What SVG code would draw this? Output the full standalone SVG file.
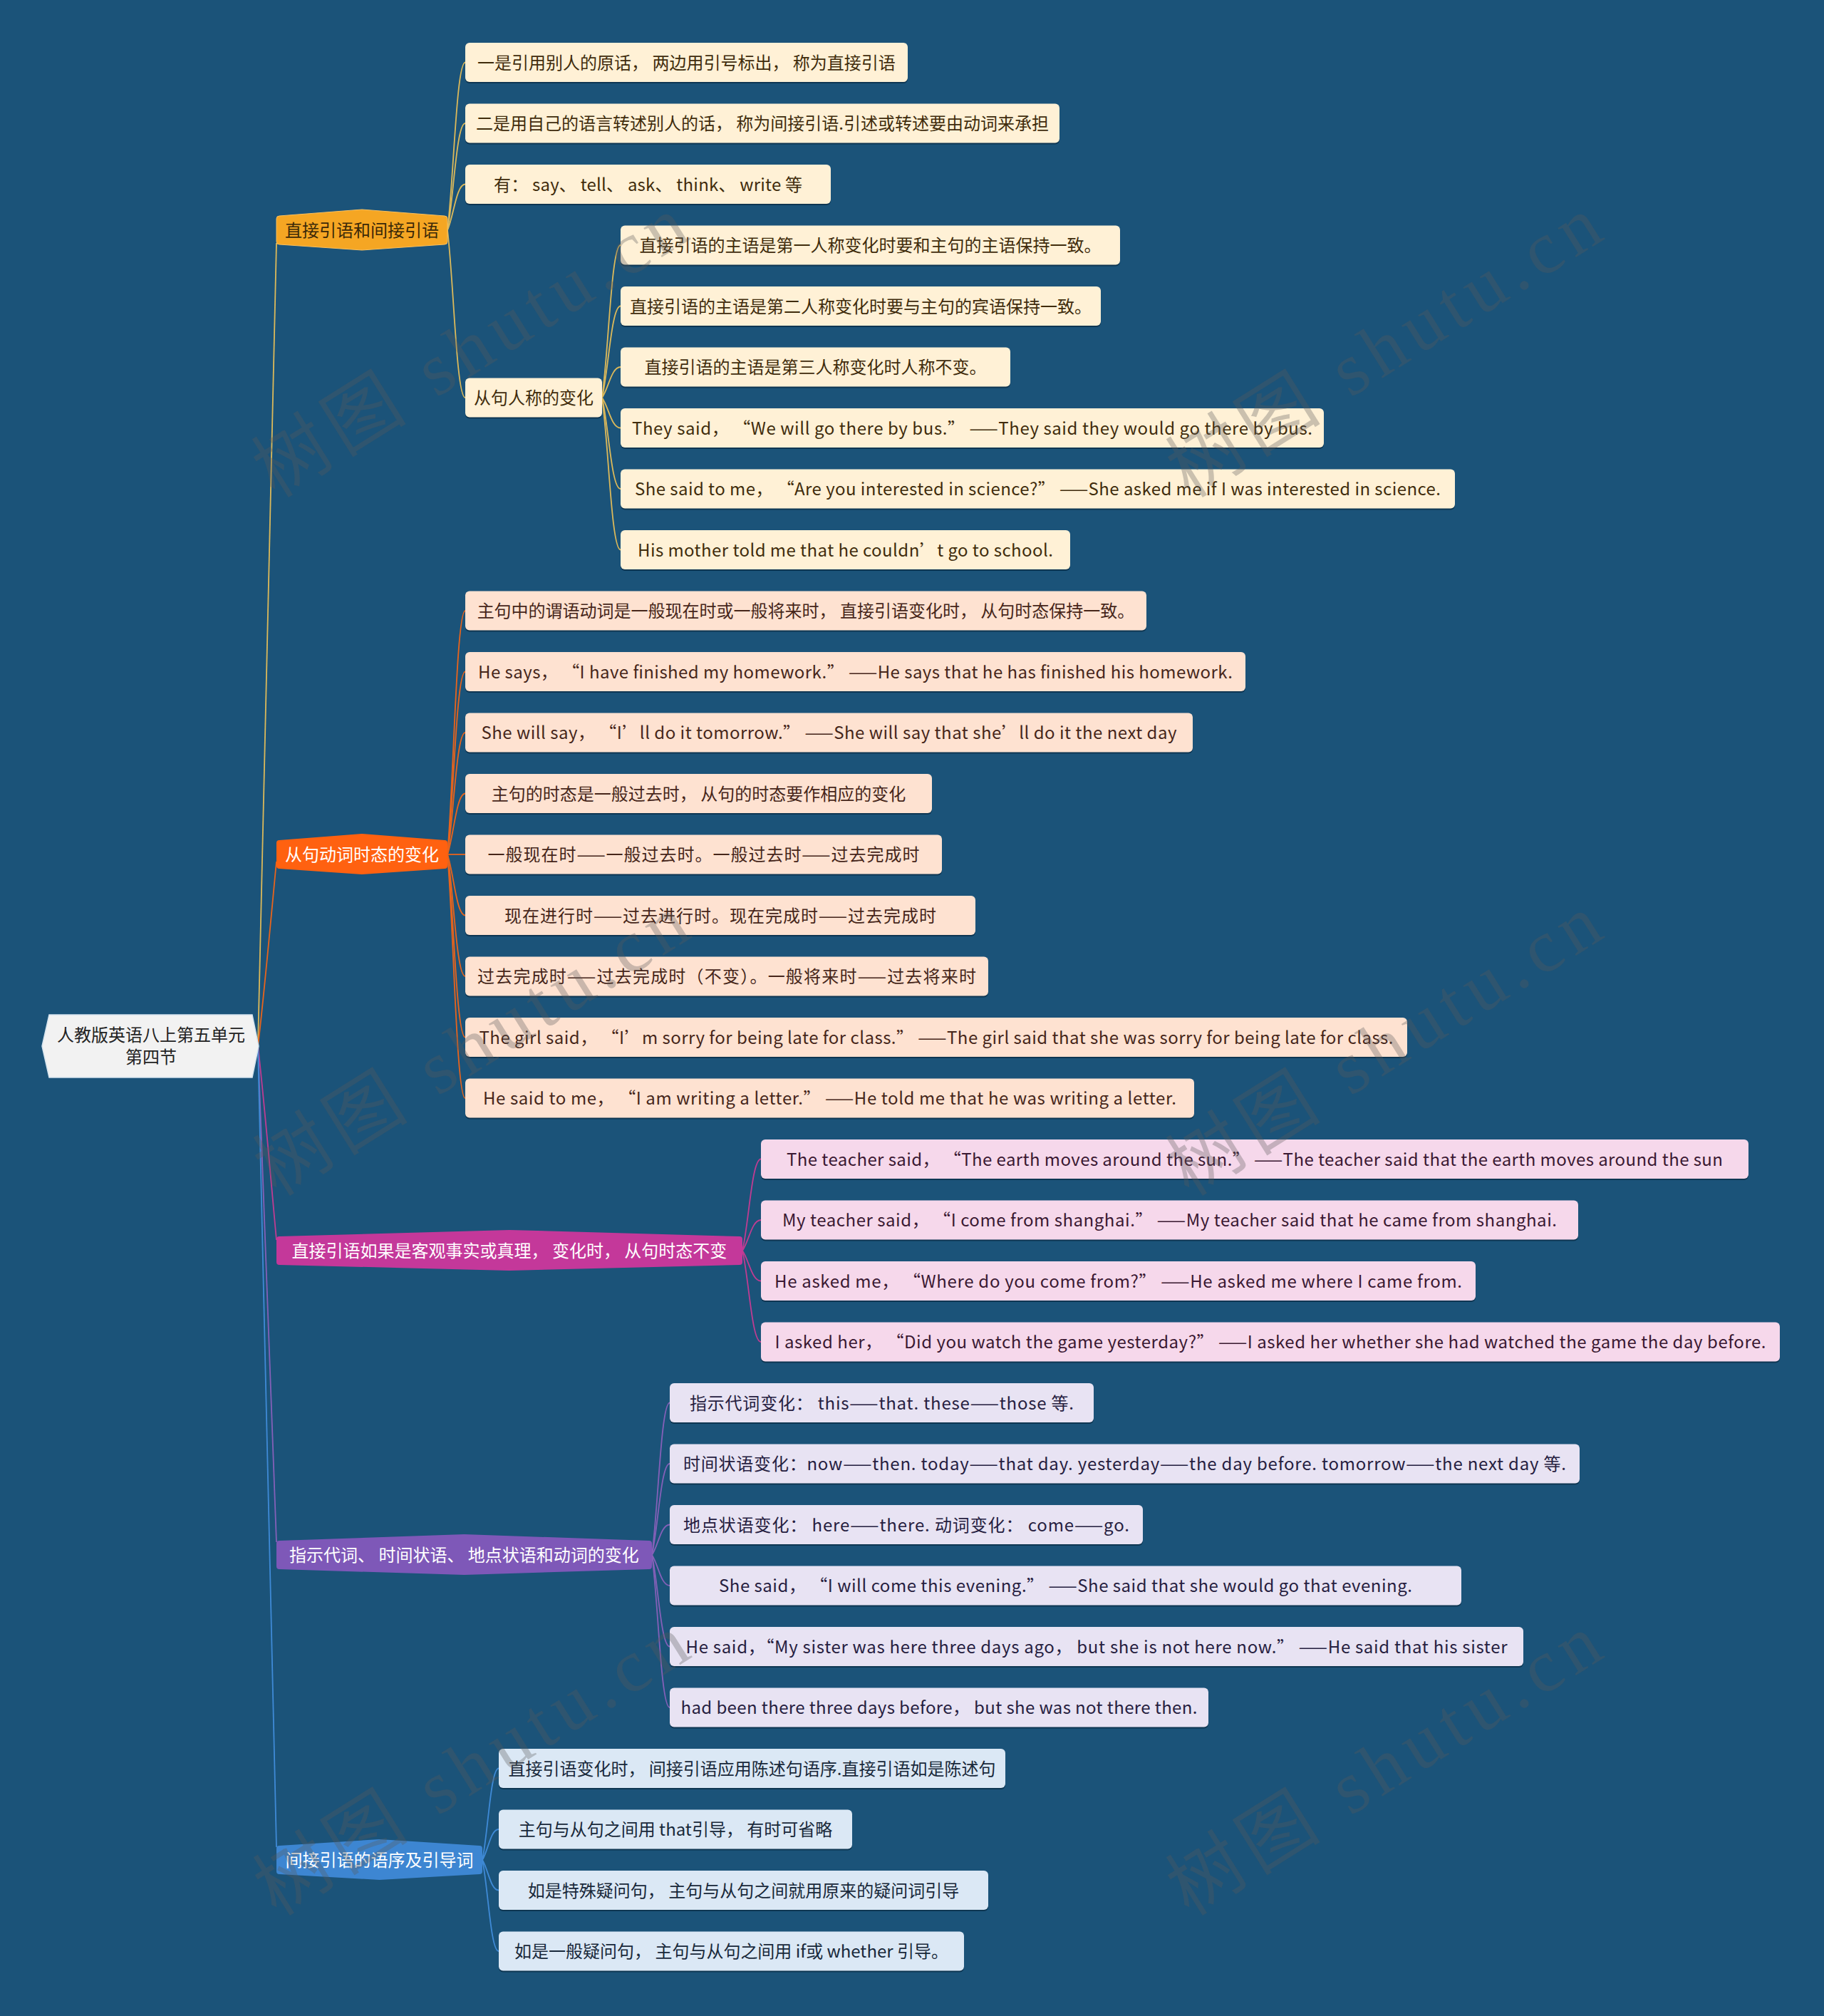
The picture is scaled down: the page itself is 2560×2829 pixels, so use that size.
<svg xmlns="http://www.w3.org/2000/svg" width="2560" height="2829" viewBox="0 0 2560 2829">
<style>
text{font-family:"Noto Sans CJK SC","Noto Sans",sans-serif;font-size:24px}
.lt{text-anchor:middle}
.sh{fill:#0e3652}
.g1 rect.f{fill:#fff1d6}.g1 text{fill:#3f2c0c}
.g2 rect.f{fill:#fee2d1}.g2 text{fill:#46261a}
.g3 rect.f{fill:#f6d8eb}.g3 text{fill:#3a1832}
.g4 rect.f{fill:#e8e3f3}.g4 text{fill:#262040}
.g5 rect.f{fill:#dbe8f5}.g5 text{fill:#18283a}
.wm{font-family:"Liberation Serif","Noto Sans CJK SC",serif;font-size:105px;fill:#5a5a5a;fill-opacity:0.32}
.c{fill:none;stroke-width:1.8}
.ca{stroke:#dcb95a}.cb{stroke:#e8641c}.cc{stroke:#bf3c92}.cd{stroke:#8460b8}.ce{stroke:#3f8ad6}
</style>
<rect width="2560" height="2829" fill="#1b5379"/>

<g id="connectors">
<path class="c ca" d="M362,1468 C370,1186 378,792 388,341"/>
<path class="c cb" d="M362,1468 C370,1403 378,1313 388,1209"/>
<path class="c cc" d="M362,1468 C370,1536 378,1631 388,1740"/>
<path class="c cd" d="M362,1468 C370,1642 378,1886 388,2164"/>
<path class="c ce" d="M362,1468 C370,1749 378,2142 388,2592"/>

<path class="c ca" d="M628,323 C636.75,252.35 640.5,87.5 653,87.5"/>
<path class="c ca" d="M628,323 C636.75,278 640.5,173 653,173"/>
<path class="c ca" d="M628,323 C636.75,303.65 640.5,258.5 653,258.5"/>
<path class="c ca" d="M628,323 C636.75,393.5 640.5,558 653,558"/>

<path class="c ca" d="M845,558 C854.1,493.8 858,344 871,344"/>
<path class="c ca" d="M845,558 C854.1,519.45 858,429.5 871,429.5"/>
<path class="c ca" d="M845,558 C854.1,545.1 858,515 871,515"/>
<path class="c ca" d="M845,558 C854.1,570.75 858,600.5 871,600.5"/>
<path class="c ca" d="M845,558 C854.1,596.4 858,686 871,686"/>
<path class="c ca" d="M845,558 C854.1,622.05 858,771.5 871,771.5"/>

<path class="c cb" d="M628,1199 C636.75,1096.4 640.5,857 653,857"/>
<path class="c cb" d="M628,1199 C636.75,1122.05 640.5,942.5 653,942.5"/>
<path class="c cb" d="M628,1199 C636.75,1147.7 640.5,1028 653,1028"/>
<path class="c cb" d="M628,1199 C636.75,1173.35 640.5,1113.5 653,1113.5"/>
<path class="c cb" d="M628,1199 C636.75,1199 640.5,1199 653,1199"/>
<path class="c cb" d="M628,1199 C636.75,1224.65 640.5,1284.5 653,1284.5"/>
<path class="c cb" d="M628,1199 C636.75,1250.3 640.5,1370 653,1370"/>
<path class="c cb" d="M628,1199 C636.75,1275.95 640.5,1455.5 653,1455.5"/>
<path class="c cb" d="M628,1199 C636.75,1301.6 640.5,1541 653,1541"/>

<path class="c cc" d="M1042,1755 C1051.1,1716.45 1055,1626.5 1068,1626.5"/>
<path class="c cc" d="M1042,1755 C1051.1,1742.1 1055,1712 1068,1712"/>
<path class="c cc" d="M1042,1755 C1051.1,1767.75 1055,1797.5 1068,1797.5"/>
<path class="c cc" d="M1042,1755 C1051.1,1793.4 1055,1883 1068,1883"/>

<path class="c cd" d="M915,2182 C923.75,2117.95 927.5,1968.5 940,1968.5"/>
<path class="c cd" d="M915,2182 C923.75,2143.6 927.5,2054 940,2054"/>
<path class="c cd" d="M915,2182 C923.75,2169.25 927.5,2139.5 940,2139.5"/>
<path class="c cd" d="M915,2182 C923.75,2194.9 927.5,2225 940,2225"/>
<path class="c cd" d="M915,2182 C923.75,2220.55 927.5,2310.5 940,2310.5"/>
<path class="c cd" d="M915,2182 C923.75,2246.2 927.5,2396 940,2396"/>

<path class="c ce" d="M677,2610 C685.05,2571.45 688.5,2481.5 700,2481.5"/>
<path class="c ce" d="M677,2610 C685.05,2597.1 688.5,2567 700,2567"/>
<path class="c ce" d="M677,2610 C685.05,2622.75 688.5,2652.5 700,2652.5"/>
<path class="c ce" d="M677,2610 C685.05,2648.4 688.5,2738 700,2738"/>
</g>

<g id="root">
<path d="M69,1424 L354,1424 L363,1468 L354,1512 L69,1512 L59,1468 Z" fill="#f2f2f2" stroke="#d6e4ee" stroke-width="1.5"/>
<text class="lt" x="212" y="1461" fill="#222">人教版英语八上第五单元</text>
<text class="lt" x="212" y="1492" fill="#222">第四节</text>
</g>

<g id="topicA">
<path d="M392,303 L508,294 L624,303 Q628,303 628,307 L628,339 Q628,343 624,343 L508,351 L392,343 Q388,343 388,339 L388,307 Q388,303 392,303 Z" fill="#f5a623" stroke="#f8c060" stroke-width="1"/>
<text class="lt" x="508" y="332" fill="#3a2808">直接引语和间接引语</text>
</g>
<g id="topicB">
<path d="M392,1179 L508,1170 L624,1179 Q628,1179 628,1183 L628,1215 Q628,1219 624,1219 L508,1227 L392,1219 Q388,1219 388,1215 L388,1183 Q388,1179 392,1179 Z" fill="#ff6110"/>
<text class="lt" x="508" y="1208" fill="#ffffff">从句动词时态的变化</text>
</g>
<g id="topicC">
<path d="M392,1735 L715,1726 L1038,1735 Q1042,1735 1042,1739 L1042,1771 Q1042,1775 1038,1775 L715,1783 L392,1775 Q388,1775 388,1771 L388,1739 Q388,1735 392,1735 Z" fill="#c4389a"/>
<text class="lt" x="715" y="1764" fill="#ffffff">直接引语如果是客观事实或真理， 变化时， 从句时态不变</text>
</g>
<g id="topicD">
<path d="M392,2162 L651.5,2153 L911,2162 Q915,2162 915,2166 L915,2198 Q915,2202 911,2202 L651.5,2210 L392,2202 Q388,2202 388,2198 L388,2166 Q388,2162 392,2162 Z" fill="#7e58b8"/>
<text class="lt" x="651.5" y="2191" fill="#ffffff">指示代词、 时间状语、 地点状语和动词的变化</text>
</g>
<g id="topicE">
<path d="M392,2590 L532.5,2581 L673,2590 Q677,2590 677,2594 L677,2626 Q677,2630 673,2630 L532.5,2638 L392,2630 Q388,2630 388,2626 L388,2594 Q388,2590 392,2590 Z" fill="#3d86d2"/>
<text class="lt" x="532.5" y="2619" fill="#ffffff">间接引语的语序及引导词</text>
</g>

<g id="n0" class="g1"><rect class="sh" x="653" y="62" width="621" height="55" rx="6"/><rect class="f" x="653" y="60" width="621" height="55" rx="6"/><text class="lt" x="963.5" y="96.5">一是引用别人的原话， 两边用引号标出， 称为直接引语</text></g>
<g id="n1" class="g1"><rect class="sh" x="653" y="147.5" width="834" height="55" rx="6"/><rect class="f" x="653" y="145.5" width="834" height="55" rx="6"/><text class="lt" x="1070" y="182">二是用自己的语言转述别人的话， 称为间接引语.引述或转述要由动词来承担</text></g>
<g id="n2" class="g1"><rect class="sh" x="653" y="233" width="513" height="55" rx="6"/><rect class="f" x="653" y="231" width="513" height="55" rx="6"/><text class="lt" x="909.5" y="267.5" textLength="433" lengthAdjust="spacing">有： say、 tell、 ask、 think、 write 等</text></g>
<g id="n2b" class="g1"><rect class="sh" x="653" y="532.5" width="192" height="55" rx="6"/><rect class="f" x="653" y="530.5" width="192" height="55" rx="6"/><text class="lt" x="749" y="567">从句人称的变化</text></g>
<g id="n3" class="g1"><rect class="sh" x="871" y="318.5" width="701" height="55" rx="6"/><rect class="f" x="871" y="316.5" width="701" height="55" rx="6"/><text class="lt" x="1221.5" y="353">直接引语的主语是第一人称变化时要和主句的主语保持一致。</text></g>
<g id="n4" class="g1"><rect class="sh" x="871" y="404" width="674" height="55" rx="6"/><rect class="f" x="871" y="402" width="674" height="55" rx="6"/><text class="lt" x="1208" y="438.5">直接引语的主语是第二人称变化时要与主句的宾语保持一致。</text></g>
<g id="n5" class="g1"><rect class="sh" x="871" y="489.5" width="547" height="55" rx="6"/><rect class="f" x="871" y="487.5" width="547" height="55" rx="6"/><text class="lt" x="1144.5" y="524">直接引语的主语是第三人称变化时人称不变。</text></g>
<g id="n6" class="g1"><rect class="sh" x="871" y="575" width="987" height="55" rx="6"/><rect class="f" x="871" y="573" width="987" height="55" rx="6"/><text class="lt" x="1364.5" y="609.5" textLength="955" lengthAdjust="spacing">They said， “We will go there by bus.” ——They said they would go there by bus.</text></g>
<g id="n7" class="g1"><rect class="sh" x="871" y="660.5" width="1171" height="55" rx="6"/><rect class="f" x="871" y="658.5" width="1171" height="55" rx="6"/><text class="lt" x="1456.5" y="695" textLength="1131" lengthAdjust="spacing">She said to me， “Are you interested in science?” ——She asked me if I was interested in science.</text></g>
<g id="n8" class="g1"><rect class="sh" x="871" y="746" width="631" height="55" rx="6"/><rect class="f" x="871" y="744" width="631" height="55" rx="6"/><text class="lt" x="1186.5" y="780.5" textLength="583" lengthAdjust="spacing">His mother told me that he couldn’t go to school.</text></g>

<g id="n9" class="g2"><rect class="sh" x="653" y="831.5" width="956" height="55" rx="6"/><rect class="f" x="653" y="829.5" width="956" height="55" rx="6"/><text class="lt" x="1131" y="866">主句中的谓语动词是一般现在时或一般将来时， 直接引语变化时， 从句时态保持一致。</text></g>
<g id="n10" class="g2"><rect class="sh" x="653" y="917" width="1095" height="55" rx="6"/><rect class="f" x="653" y="915" width="1095" height="55" rx="6"/><text class="lt" x="1200.5" y="951.5" textLength="1059" lengthAdjust="spacing">He says， “I have finished my homework.” ——He says that he has finished his homework.</text></g>
<g id="n11" class="g2"><rect class="sh" x="653" y="1002.5" width="1021" height="55" rx="6"/><rect class="f" x="653" y="1000.5" width="1021" height="55" rx="6"/><text class="lt" x="1163.5" y="1037" textLength="976" lengthAdjust="spacing">She will say， “I’ll do it tomorrow.” ——She will say that she’ll do it the next day</text></g>
<g id="n12" class="g2"><rect class="sh" x="653" y="1088" width="655" height="55" rx="6"/><rect class="f" x="653" y="1086" width="655" height="55" rx="6"/><text class="lt" x="980.5" y="1122.5">主句的时态是一般过去时， 从句的时态要作相应的变化</text></g>
<g id="n13" class="g2"><rect class="sh" x="653" y="1173.5" width="669" height="55" rx="6"/><rect class="f" x="653" y="1171.5" width="669" height="55" rx="6"/><text class="lt" x="987.5" y="1208" textLength="606" lengthAdjust="spacing">一般现在时——一般过去时。一般过去时——过去完成时</text></g>
<g id="n14" class="g2"><rect class="sh" x="653" y="1259" width="716" height="55" rx="6"/><rect class="f" x="653" y="1257" width="716" height="55" rx="6"/><text class="lt" x="1011" y="1293.5" textLength="606" lengthAdjust="spacing">现在进行时——过去进行时。现在完成时——过去完成时</text></g>
<g id="n15" class="g2"><rect class="sh" x="653" y="1344.5" width="734" height="55" rx="6"/><rect class="f" x="653" y="1342.5" width="734" height="55" rx="6"/><text class="lt" x="1020" y="1379" textLength="700" lengthAdjust="spacing">过去完成时——过去完成时（不变）。一般将来时——过去将来时</text></g>
<g id="n16" class="g2"><rect class="sh" x="653" y="1430" width="1322" height="55" rx="6"/><rect class="f" x="653" y="1428" width="1322" height="55" rx="6"/><text class="lt" x="1314" y="1464.5" textLength="1283" lengthAdjust="spacing">The girl said， “I’m sorry for being late for class.” ——The girl said that she was sorry for being late for class.</text></g>
<g id="n17" class="g2"><rect class="sh" x="653" y="1515.5" width="1023" height="55" rx="6"/><rect class="f" x="653" y="1513.5" width="1023" height="55" rx="6"/><text class="lt" x="1164.5" y="1550" textLength="973" lengthAdjust="spacing">He said to me， “I am writing a letter.” ——He told me that he was writing a letter.</text></g>

<g id="n18" class="g3"><rect class="sh" x="1068" y="1601" width="1386" height="55" rx="6"/><rect class="f" x="1068" y="1599" width="1386" height="55" rx="6"/><text class="lt" x="1761" y="1635.5" textLength="1314" lengthAdjust="spacing">The teacher said， “The earth moves around the sun.” ——The teacher said that the earth moves around the sun</text></g>
<g id="n19" class="g3"><rect class="sh" x="1068" y="1686.5" width="1147" height="55" rx="6"/><rect class="f" x="1068" y="1684.5" width="1147" height="55" rx="6"/><text class="lt" x="1641.5" y="1721" textLength="1087" lengthAdjust="spacing">My teacher said， “I come from shanghai.” ——My teacher said that he came from shanghai.</text></g>
<g id="n20" class="g3"><rect class="sh" x="1068" y="1772" width="1003" height="55" rx="6"/><rect class="f" x="1068" y="1770" width="1003" height="55" rx="6"/><text class="lt" x="1569.5" y="1806.5" textLength="965" lengthAdjust="spacing">He asked me， “Where do you come from?” ——He asked me where I came from.</text></g>
<g id="n21" class="g3"><rect class="sh" x="1068" y="1857.5" width="1430" height="55" rx="6"/><rect class="f" x="1068" y="1855.5" width="1430" height="55" rx="6"/><text class="lt" x="1783" y="1892" textLength="1391" lengthAdjust="spacing">I asked her， “Did you watch the game yesterday?” ——I asked her whether she had watched the game the day before.</text></g>

<g id="n22" class="g4"><rect class="sh" x="940" y="1943" width="595" height="55" rx="6"/><rect class="f" x="940" y="1941" width="595" height="55" rx="6"/><text class="lt" x="1237.5" y="1977.5" textLength="539" lengthAdjust="spacing">指示代词变化： this——that. these——those 等.</text></g>
<g id="n23" class="g4"><rect class="sh" x="940" y="2028.5" width="1277" height="55" rx="6"/><rect class="f" x="940" y="2026.5" width="1277" height="55" rx="6"/><text class="lt" x="1578.5" y="2063" textLength="1239" lengthAdjust="spacing">时间状语变化：now——then. today——that day. yesterday——the day before. tomorrow——the next day 等.</text></g>
<g id="n24" class="g4"><rect class="sh" x="940" y="2114" width="664" height="55" rx="6"/><rect class="f" x="940" y="2112" width="664" height="55" rx="6"/><text class="lt" x="1272" y="2148.5" textLength="626" lengthAdjust="spacing">地点状语变化： here——there. 动词变化： come——go.</text></g>
<g id="n25" class="g4"><rect class="sh" x="940" y="2199.5" width="1111" height="55" rx="6"/><rect class="f" x="940" y="2197.5" width="1111" height="55" rx="6"/><text class="lt" x="1495.5" y="2234" textLength="973" lengthAdjust="spacing">She said， “I will come this evening.” ——She said that she would go that evening.</text></g>
<g id="n26" class="g4"><rect class="sh" x="940" y="2285" width="1198" height="55" rx="6"/><rect class="f" x="940" y="2283" width="1198" height="55" rx="6"/><text class="lt" x="1539" y="2319.5" textLength="1153" lengthAdjust="spacing">He said，“My sister was here three days ago， but she is not here now.” ——He said that his sister</text></g>
<g id="n27" class="g4"><rect class="sh" x="940" y="2370.5" width="756" height="55" rx="6"/><rect class="f" x="940" y="2368.5" width="756" height="55" rx="6"/><text class="lt" x="1318" y="2405" textLength="725" lengthAdjust="spacing">had been there three days before， but she was not there then.</text></g>

<g id="n28" class="g5"><rect class="sh" x="700" y="2456" width="711" height="55" rx="6"/><rect class="f" x="700" y="2454" width="711" height="55" rx="6"/><text class="lt" x="1055.5" y="2490.5">直接引语变化时， 间接引语应用陈述句语序.直接引语如是陈述句</text></g>
<g id="n29" class="g5"><rect class="sh" x="700" y="2541.5" width="496" height="55" rx="6"/><rect class="f" x="700" y="2539.5" width="496" height="55" rx="6"/><text class="lt" x="948" y="2576">主句与从句之间用 that引导， 有时可省略</text></g>
<g id="n30" class="g5"><rect class="sh" x="700" y="2627" width="687" height="55" rx="6"/><rect class="f" x="700" y="2625" width="687" height="55" rx="6"/><text class="lt" x="1043.5" y="2661.5">如是特殊疑问句， 主句与从句之间就用原来的疑问词引导</text></g>
<g id="n31" class="g5"><rect class="sh" x="700" y="2712.5" width="653" height="55" rx="6"/><rect class="f" x="700" y="2710.5" width="653" height="55" rx="6"/><text class="lt" x="1026.5" y="2747">如是一般疑问句， 主句与从句之间用 if或 whether 引导。</text></g>

<g id="watermark">
<text class="wm" transform="translate(386,700) rotate(-32)" textLength="690" lengthAdjust="spacing">树图 shutu.cn</text>
<text class="wm" transform="translate(1669,700) rotate(-32)" textLength="690" lengthAdjust="spacing">树图 shutu.cn</text>
<text class="wm" transform="translate(388,1680) rotate(-32)" textLength="690" lengthAdjust="spacing">树图 shutu.cn</text>
<text class="wm" transform="translate(1669,1680) rotate(-32)" textLength="690" lengthAdjust="spacing">树图 shutu.cn</text>
<text class="wm" transform="translate(388,2690) rotate(-32)" textLength="690" lengthAdjust="spacing">树图 shutu.cn</text>
<text class="wm" transform="translate(1669,2690) rotate(-32)" textLength="690" lengthAdjust="spacing">树图 shutu.cn</text>
</g>
</svg>
